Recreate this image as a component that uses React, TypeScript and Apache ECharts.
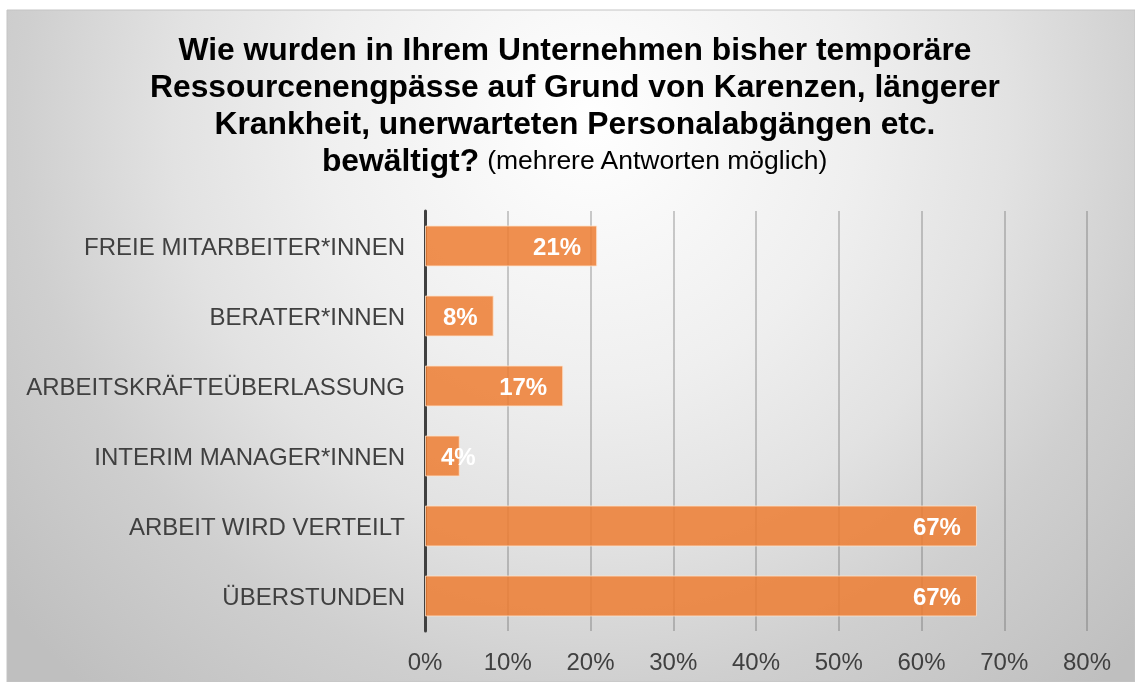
import React, { useEffect, useRef } from "react";
import * as echarts from "echarts";

const categories = [
  "FREIE MITARBEITER*INNEN",
  "BERATER*INNEN",
  "ARBEITSKRÄFTEÜBERLASSUNG",
  "INTERIM MANAGER*INNEN",
  "ARBEIT WIRD VERTEILT",
  "ÜBERSTUNDEN",
];
const values = [20.8, 8.3, 16.7, 4.2, 66.7, 66.7];
const titleLines = [
  "Wie wurden in Ihrem Unternehmen bisher temporäre",
  "Ressourcenengpässe auf Grund von Karenzen, längerer",
  "Krankheit, unerwarteten Personalabgängen etc.",
];
const titleLastBold = "bewältigt?";
const titleLastNormal = "(mehrere Antworten möglich)";
const axisMax = 80;
const axisInterval = 10;

const FONT = "'Liberation Sans', Arial, sans-serif";

export default function App() {
  const ref = useRef<HTMLDivElement>(null);
  useEffect(() => {
    if (!ref.current) return;
    const chart = echarts.init(ref.current, null, { renderer: "svg" });
    const titleText =
      titleLines.map((l) => `{b|${l}}`).join("\n") +
      `\n{b|${titleLastBold}}{n| ${titleLastNormal}}`;
    chart.setOption({
      animation: false,
      textStyle: { fontFamily: FONT },
      graphic: [
        {
          type: "rect",
          z: -10,
          silent: true,
          shape: { x: 7, y: 10, width: 1128, height: 672 },
          style: {
            fill: {
              type: "radial",
              x: 590,
              y: 120,
              r: 760,
              global: true,
              colorStops: [
                { offset: 0, color: "#ffffff" },
                { offset: 0.35, color: "#efefef" },
                { offset: 0.55, color: "#e2e2e2" },
                { offset: 0.75, color: "#cfcfcf" },
                { offset: 1, color: "#bfbfbf" },
              ],
            },
            stroke: "#c4c4c4",
            lineWidth: 1,
          },
        },
      ],
      title: {
        text: titleText,
        left: 575,
        top: 30,
        textAlign: "center",
        padding: 0,
        textStyle: {
          fontFamily: FONT,
          rich: {
            b: {
              fontFamily: FONT,
              fontSize: 31.8,
              fontWeight: "bold",
              color: "#000000",
              lineHeight: 37,
            },
            n: {
              fontFamily: FONT,
              fontSize: 26.5,
              fontWeight: "normal",
              color: "#000000",
              lineHeight: 37,
            },
          },
        },
      },
      grid: { left: 425, right: 48, top: 211, bottom: 51, containLabel: false },
      xAxis: {
        type: "value",
        min: 0,
        max: axisMax,
        interval: axisInterval,
        axisLine: { show: false },
        axisTick: { show: false },
        axisLabel: {
          formatter: (v: number) => `${v}%`,
          fontFamily: FONT,
          fontSize: 24,
          color: "#404040",
          margin: 18,
        },
        splitLine: {
          show: true,
          lineStyle: { color: "rgba(80,80,80,0.38)", width: 1.5 },
        },
      },
      yAxis: {
        type: "category",
        data: categories,
        inverse: true,
        axisLine: { show: true, lineStyle: { color: "#404040", width: 3 } },
        axisTick: { show: false },
        axisLabel: {
          fontFamily: FONT,
          fontSize: 24,
          color: "#404040",
          margin: 20,
        },
      },
      series: [
        {
          type: "bar",
          data: values.map((v) =>
            v < 6
              ? { value: v, label: { position: "insideLeft" } }
              : { value: v }
          ),
          barWidth: "58.5%",
          itemStyle: {
            color: "rgba(237,125,49,0.85)",
            borderColor: "rgba(255,225,200,0.8)",
            borderWidth: 1,
          },
          label: {
            show: true,
            position: "insideRight",
            distance: 16,
            formatter: (p: any) => `${Math.round(p.value)}%`,
            fontFamily: FONT,
            fontSize: 24,
            fontWeight: "bold",
            color: "#ffffff",
          },
        },
      ],
    });
    return () => chart.dispose();
  }, []);
  return (
    <div
      ref={ref}
      style={{ position: "fixed", left: 0, top: 0, width: 1135, height: 682 }}
    />
  );
}
